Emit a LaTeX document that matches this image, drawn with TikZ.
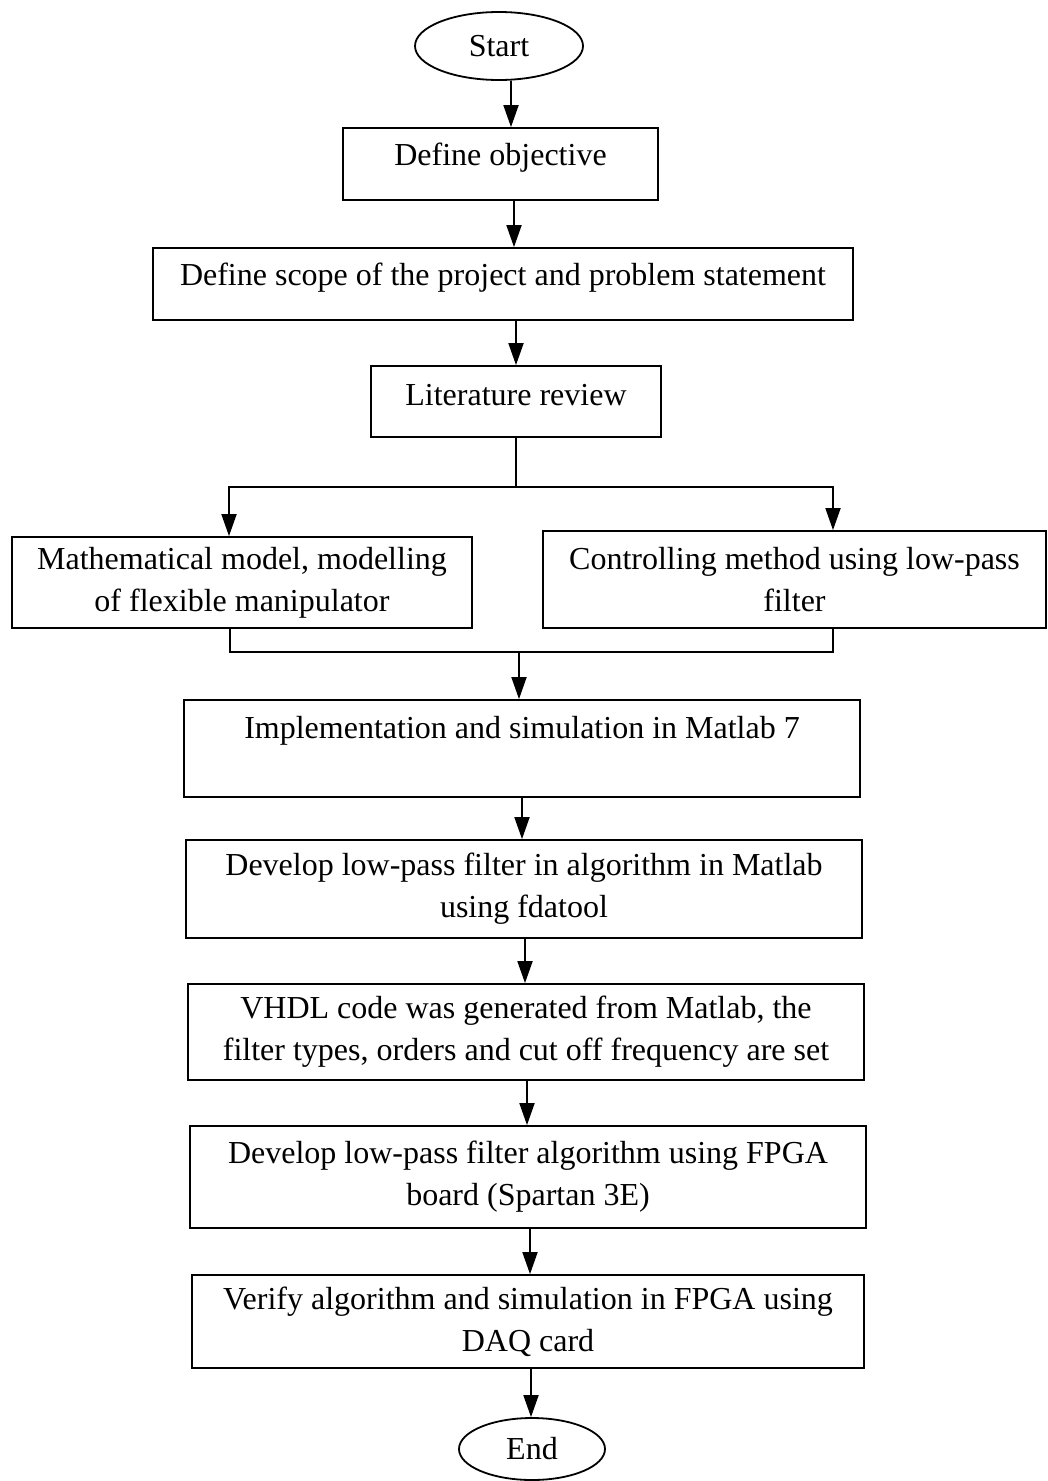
\documentclass[tikz,border=0pt]{standalone}
\usepackage{fontspec}
\setmainfont{Liberation Serif}
\usetikzlibrary{arrows.meta,shapes.geometric}
\newcommand{\liftup}[1]{\raisebox{6pt}[\height][\depth]{#1}}
\begin{document}
\begin{tikzpicture}[x=1pt,y=-1pt,
  every node/.style={font=\fontsize{32}{42}\selectfont, inner sep=0pt, align=center},
  box/.style={draw, line width=1.8pt, rectangle},
  term/.style={draw, line width=1.8pt, ellipse},
  conn/.style={line width=1.8pt},
  arr/.style={line width=1.8pt, -{Triangle[length=22pt,width=15pt]}}]
\useasboundingbox (0,0) rectangle (1048,1481);
\node[term, minimum width=168, minimum height=68] (start) at (499,46) {Start};
\node[box, minimum width=315, minimum height=72] (obj) at (500.5,164) {\liftup{Define objective}};
\node[box, minimum width=700, minimum height=72] (scope) at (503,284) {\liftup{Define scope of the project and problem statement}};
\node[box, minimum width=290, minimum height=71] (lit) at (516,401.5) {\liftup{Literature review}};
\node[box, minimum width=460, minimum height=91] (math) at (242,582.5) {Mathematical model, modelling\\of flexible manipulator};
\node[box, minimum width=503, minimum height=97] (ctrl) at (794.5,579.5) {Controlling method using low-pass\\filter};
\node[box, minimum width=676, minimum height=97] (impl) at (522,748.5) {Implementation and simulation in Matlab 7\\\mbox{}};
\node[box, minimum width=676, minimum height=98] (fda) at (524,889) {Develop low-pass filter in algorithm in Matlab\\using fdatool};
\node[box, minimum width=676, minimum height=96] (vhdl) at (526,1032) {VHDL code was generated from Matlab, the\\filter types, orders and cut off frequency are set};
\node[box, minimum width=676, minimum height=102] (fpga) at (528,1177) {Develop low-pass filter algorithm using FPGA\\board (Spartan 3E)};
\node[box, minimum width=672, minimum height=93] (verify) at (528,1321.5) {Verify algorithm and simulation in FPGA using\\DAQ card};
\node[term, minimum width=146, minimum height=62] (end) at (532,1449) {End};

\draw[arr] (start.south -| 511,0) -- (obj.north -| 511,0);
\draw[arr] (obj.south -| 514,0) -- (scope.north -| 514,0);
\draw[arr] (scope.south -| 516,0) -- (lit.north -| 516,0);
\coordinate (fork) at (516,487);
\draw[conn] (lit.south -| fork) -- (fork);
\draw[arr] (fork) -| (math.north -| 229,0);
\draw[arr] (fork) -| (ctrl.north -| 833,0);
\coordinate (join) at (519,652);
\draw[conn] (math.south -| 230,0) |- (join);
\draw[conn] (ctrl.south -| 833,0) |- (join);
\draw[arr] (join) -- (impl.north -| join);
\draw[arr] (impl.south -| 522,0) -- (fda.north -| 522,0);
\draw[arr] (fda.south -| 525,0) -- (vhdl.north -| 525,0);
\draw[arr] (vhdl.south -| 527,0) -- (fpga.north -| 527,0);
\draw[arr] (fpga.south -| 530,0) -- (verify.north -| 530,0);
\draw[arr] (verify.south -| 531,0) -- (end.north -| 531,0);
\end{tikzpicture}
\end{document}
